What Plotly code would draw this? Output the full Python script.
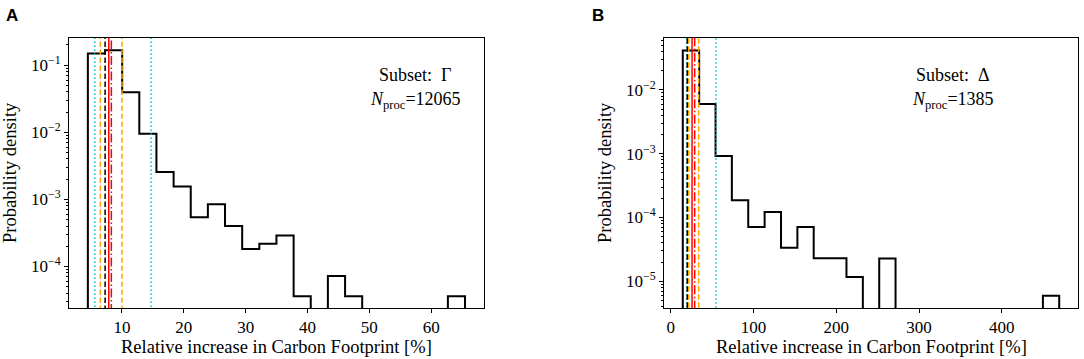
import plotly.graph_objects as go

# ---------------- data ----------------
# Panel A (Subset Γ)
a_edges = [4.48, 7.25, 10.03, 12.80, 15.57, 18.35, 21.12, 23.89, 26.66, 29.44, 32.21, 34.98,
           37.76, 40.53, 43.30, 46.08, 48.85, 51.62, 54.39, 57.17, 59.94, 62.71, 65.48]
a_density = [0.1496, 0.1675, 0.0395, 0.00953, 0.00255, 0.00155, 0.000542, 0.000847, 0.000402,
             0.000182, 0.000218, 0.000288, 3.6e-5, 0, 7.2e-5, 3.6e-5, 0, 0, 0, 0, 0, 3.6e-5]
a_cyan = [5.6, 14.7]
a_orange = [6.5, 10.0]
a_black = [7.27]
a_red = [7.86]
a_reddash = [8.28]
a_xticks = [10, 20, 30, 40, 50, 60]

# Panel B (Subset Δ)
b_edges = [14.4, 34.2, 54.0, 73.7, 93.5, 113.3, 133.1, 152.9, 172.6, 192.4, 212.2, 232.0,
           251.8, 271.5, 291.3, 311.1, 330.9, 350.7, 370.4, 390.2, 410.0, 429.8, 449.6, 469.3]
b_density = [0.0414, 0.00603, 9.2e-4, 1.87e-4, 7.1e-5, 1.22e-4, 3.34e-5, 7.1e-5, 2.29e-5,
             2.29e-5, 1.16e-5, 0, 2.27e-5, 0, 0, 0, 0, 0, 0, 0, 0, 0, 5.9e-6]
b_cyan = [19.2, 54.5]
b_orange = [21.6, 33.6]
b_black = [19.8]
b_red = [25.6]
b_reddash = [28.8]
b_xticks = [0, 100, 200, 300, 400]

a_decades = [-5, -4, -3, -2, -1]
b_decades = [-6, -5, -4, -3, -2]

a_subset = "Subset:  Γ"
b_subset = "Subset:  Δ"
a_nproc = 12065
b_nproc = 1385

# ---------------- helpers ----------------
FONT = "Liberation Serif"
TINY = 1e-12  # empty bins drop below the axis (clipped)


def step_path(edges, dens):
    xs, ys = [edges[0]], [TINY]
    for i, d in enumerate(dens):
        v = d if d > 0 else TINY
        xs += [edges[i], edges[i + 1]]
        ys += [v, v]
    xs.append(edges[-1])
    ys.append(TINY)
    return xs, ys


fig = go.Figure()

W, H = 1084, 359
top_px, bot_px = 38, 308


def px_x(x):
    return x / W


def px_y(y):
    return 1 - y / H


panels = [
    dict(edges=a_edges, dens=a_density, cyan=a_cyan, orange=a_orange, black=a_black,
         red=a_red, reddash=a_reddash, xr=[1.43, 68.55], yr=[-4.62, -0.595],
         x0=69, x1=484, xt=a_xticks, dec=a_decades,
         subset=a_subset, n=a_nproc, letter="A", letter_x=11.5, ytitle_x=10, text_x=415),
    dict(edges=b_edges, dens=b_density, cyan=b_cyan, orange=b_orange, black=b_black,
         red=b_red, reddash=b_reddash, xr=[-8.3, 492.0], yr=[-5.42, -1.185],
         x0=664, x1=1078, xt=b_xticks, dec=b_decades,
         subset=b_subset, n=b_nproc, letter="B", letter_x=598, ytitle_x=605, text_x=953),
]

line_styles = [
    ("cyan", "#00BFBF", "1.5px,2.5px", 1.5),
    ("orange", "#FFA500", "5.5px,2.5px", 1.5),
    ("black", "#000000", "5.5px,2.5px", 1.5),
    ("red", "#FF0000", "solid", 1.5),
    ("reddash", "#FF0000", "9px,2.5px,1.5px,2.5px", 1.5),
]

annotations = []
for i, p in enumerate(panels):
    xa = "x" if i == 0 else "x2"
    ya = "y" if i == 0 else "y2"
    xs, ys = step_path(p["edges"], p["dens"])
    fig.add_trace(go.Scatter(x=xs, y=ys, mode="lines", xaxis=xa, yaxis=ya,
                             line=dict(color="black", width=2), showlegend=False,
                             hoverinfo="skip"))
    for key, col, dash, w in line_styles:
        for v in p[key]:
            fig.add_trace(go.Scatter(x=[v, v], y=[10 ** (p["yr"][0] - 1), 10 ** (p["yr"][1] + 1)],
                                     mode="lines", xaxis=xa, yaxis=ya,
                                     line=dict(color=col, width=w, dash=dash),
                                     showlegend=False, hoverinfo="skip"))

    major_vals = [10.0 ** d for d in p["dec"]]
    major_text = ["10<sup>−%d</sup>" % (-d) for d in p["dec"]]
    minor_vals = [m * 10.0 ** d for d in p["dec"] for m in range(2, 10)]

    axis_common = dict(showline=True, linecolor="black", linewidth=1, mirror=True,
                       ticks="outside", tickcolor="black", tickwidth=0.9, ticklen=4,
                       showgrid=False, zeroline=False,
                       tickfont=dict(family=FONT, size=17, color="black"))
    xd = [px_x(p["x0"]), px_x(p["x1"])]
    yd = [px_y(bot_px), px_y(top_px)]
    xname = "xaxis" if i == 0 else "xaxis2"
    yname = "yaxis" if i == 0 else "yaxis2"
    fig.update_layout(**{
        xname: dict(domain=xd, range=p["xr"], tickvals=p["xt"], anchor=ya, **axis_common),
        yname: dict(domain=yd, type="log", range=p["yr"], tickvals=major_vals,
                    ticktext=major_text, anchor=xa,
                    minor=dict(tickmode="array", tickvals=minor_vals, ticks="outside",
                               ticklen=2, tickwidth=0.8, tickcolor="black", showgrid=False),
                    **axis_common),
    })

    cx = px_x((p["x0"] + p["x1"]) / 2)
    annotations += [
        dict(text="Relative increase in Carbon Footprint [%]", x=cx, y=px_y(347),
             xref="paper", yref="paper", showarrow=False, xanchor="center", yanchor="middle",
             font=dict(family=FONT, size=18.5, color="black")),
        dict(text="Probability density", x=px_x(p["ytitle_x"]), y=px_y(173), textangle=-90,
             xref="paper", yref="paper", showarrow=False, xanchor="center", yanchor="middle",
             font=dict(family=FONT, size=18.5, color="black")),
        dict(text="<b>" + p["letter"] + "</b>", x=px_x(p["letter_x"]), y=px_y(15.5),
             xref="paper", yref="paper", showarrow=False, xanchor="center", yanchor="middle",
             font=dict(family="Liberation Sans", size=17, color="black")),
        dict(text=p["subset"], x=px_x(p["text_x"]), y=px_y(75),
             xref="paper", yref="paper", showarrow=False, xanchor="center", yanchor="middle",
             font=dict(family=FONT, size=18, color="black")),
        dict(text="<i>N</i><sub>proc</sub>=" + str(p["n"]), x=px_x(p["text_x"]), y=px_y(100),
             xref="paper", yref="paper", showarrow=False, xanchor="center", yanchor="middle",
             font=dict(family=FONT, size=18, color="black")),
    ]

fig.update_layout(width=W, height=H, margin=dict(l=0, r=0, t=0, b=0),
                  paper_bgcolor="white", plot_bgcolor="white",
                  annotations=annotations, showlegend=False)

fig.write_html("out.html", config={"displayModeBar": False},
               post_script="document.body.style.margin='0';document.body.style.overflow='hidden';")
